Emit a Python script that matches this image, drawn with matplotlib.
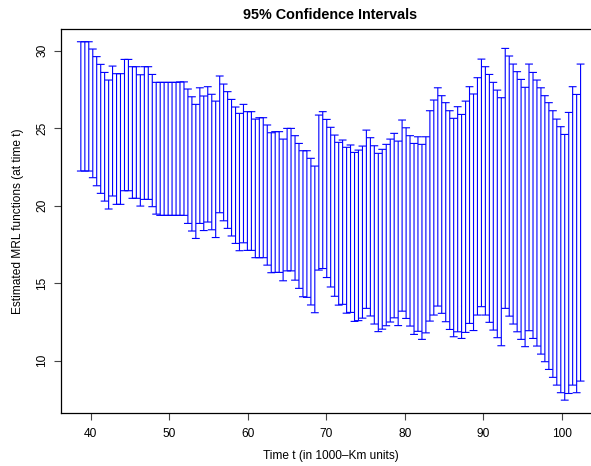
import matplotlib
matplotlib.use("Agg")
import matplotlib.pyplot as plt

plt.rcParams['font.family'] = ['Liberation Sans', 'DejaVu Sans']

# time points (in 1000-Km units)
times = [38.73, 39.24, 39.74, 40.25, 40.75, 41.26, 41.76, 42.27, 42.77, 43.28,
         43.78, 44.29, 44.79, 45.30, 45.80, 46.31, 46.82, 47.32, 47.83, 48.33,
         48.84, 49.34, 49.85, 50.35, 50.86, 51.36, 51.87, 52.37, 52.88, 53.38,
         53.89, 54.39, 54.90, 55.41, 55.91, 56.42, 56.92, 57.43, 57.93, 58.44,
         58.94, 59.45, 59.95, 60.46, 60.96, 61.47, 61.97, 62.48, 62.99, 63.49,
         64.00, 64.50, 65.01, 65.51, 66.02, 66.52, 67.03, 67.53, 68.04, 68.54,
         69.05, 69.55, 70.06, 70.56, 71.07, 71.58, 72.08, 72.59, 73.09, 73.60,
         74.10, 74.61, 75.11, 75.62, 76.12, 76.63, 77.13, 77.64, 78.15, 78.65,
         79.16, 79.66, 80.17, 80.67, 81.18, 81.68, 82.19, 82.69, 83.20, 83.70,
         84.21, 84.71, 85.22, 85.73, 86.23, 86.74, 87.24, 87.75, 88.25, 88.76,
         89.26, 89.77, 90.27, 90.78, 91.28, 91.79, 92.30, 92.80, 93.31, 93.81,
         94.32, 94.82, 95.33, 95.83, 96.34, 96.84, 97.35, 97.85, 98.36, 98.87,
         99.37, 99.88, 100.38, 100.89, 101.39, 101.90, 102.40]

# upper 95% limits
upper = [30.58, 30.58, 30.58, 30.11, 29.62, 29.12, 28.60, 28.11, 29.01, 28.52,
         28.52, 29.44, 29.44, 28.97, 28.97, 28.45, 28.97, 28.97, 28.47, 27.96,
         27.96, 27.96, 27.96, 27.96, 27.96, 27.99, 27.99, 27.53, 27.03, 26.54,
         27.61, 27.08, 27.68, 27.19, 26.75, 28.37, 27.85, 27.36, 26.86, 26.37,
         25.96, 26.54, 26.07, 26.07, 25.59, 25.68, 25.68, 25.21, 24.71, 24.78,
         24.78, 24.30, 24.99, 24.99, 24.52, 24.02, 23.55, 23.55, 23.06, 22.56,
         25.85, 26.07, 25.57, 25.06, 24.56, 24.09, 24.24, 23.77, 23.92, 23.44,
         23.59, 23.85, 24.88, 24.39, 23.87, 23.38, 23.64, 23.96, 24.30, 24.67,
         24.17, 25.53, 25.03, 24.52, 24.02, 24.45, 23.96, 24.45, 26.13, 26.82,
         27.61, 27.10, 26.65, 26.13, 25.64, 26.39, 25.89, 26.75, 27.68, 27.21,
         28.26, 29.46, 28.97, 28.47, 27.96, 27.46, 26.97, 30.15, 29.66, 29.14,
         28.65, 28.15, 27.64, 29.14, 28.60, 28.11, 27.61, 27.10, 26.65, 26.13,
         25.59, 25.10, 24.60, 26.02, 27.68, 27.18, 29.14]

# lower 95% limits
lower = [22.24, 22.24, 22.24, 21.81, 21.29, 20.80, 20.30, 19.79, 20.63, 20.09,
         20.09, 20.97, 20.97, 20.48, 20.48, 19.98, 20.41, 20.41, 19.94, 19.46,
         19.38, 19.38, 19.38, 19.38, 19.38, 19.38, 19.38, 18.86, 18.37, 17.89,
         18.86, 18.40, 18.95, 18.45, 17.95, 19.55, 19.03, 18.54, 18.05, 17.57,
         17.10, 17.61, 17.12, 17.12, 16.65, 16.65, 16.65, 16.17, 15.68, 15.70,
         15.70, 15.16, 15.80, 15.80, 15.20, 14.67, 14.13, 14.09, 13.60, 13.10,
         15.85, 15.95, 15.37, 14.76, 14.16, 13.59, 13.64, 13.07, 13.12, 12.54,
         12.59, 12.75, 13.38, 12.89, 12.37, 11.88, 12.04, 12.26, 12.50, 12.77,
         12.27, 13.20, 12.73, 12.24, 11.70, 11.90, 11.38, 11.80, 12.56, 12.95,
         13.53, 13.06, 12.52, 12.02, 11.55, 11.87, 11.44, 11.83, 12.41, 11.95,
         12.95, 13.49, 12.95, 12.48, 11.98, 11.49, 10.97, 13.38, 12.88, 12.37,
         11.87, 11.38, 10.91, 11.94, 11.44, 10.95, 10.43, 9.94, 9.44, 8.93,
         8.43, 7.94, 7.46, 7.89, 8.43, 7.94, 8.69]

cap = 0.5

fig = plt.figure(figsize=(5.91, 4.66), dpi=100)
ax = fig.add_axes([0.1032, 0.1137, 0.9117, 0.824])

lo_x = [t - cap for t in times]
hi_x = [t + cap for t in times]
ax.vlines(times, lower, upper, colors='blue', linewidth=0.8, snap=False)
ax.hlines(upper, lo_x, hi_x, colors='blue', linewidth=0.8, snap=False)
ax.hlines(lower, lo_x, hi_x, colors='blue', linewidth=0.8, snap=False)

ax.set_xlim(36.2, 104.85)
ax.set_ylim(6.63, 31.40)
ax.set_xticks([40, 50, 60, 70, 80, 90, 100])
ax.set_yticks([10, 15, 20, 25, 30])
ax.tick_params(axis='both', length=5, width=0.8, color='#444444', labelsize=8.6)
ax.tick_params(axis='x', pad=6)
ax.tick_params(axis='y', pad=4)
for lab in ax.get_yticklabels():
    lab.set_rotation(90)
    lab.set_va('center')
for s in ax.spines.values():
    s.set_linewidth(0.9)
ax.spines['right'].set_visible(False)

ax.set_title('95% Confidence Intervals', fontsize=10.4, fontweight='bold', pad=7)
ax.set_xlabel('Time t (in 1000\u2013Km units)', fontsize=8.6, labelpad=7)
ax.set_ylabel('Estimated MRL functions (at time t)', fontsize=8.6, labelpad=9)

fig.savefig('out.png', dpi=100)
